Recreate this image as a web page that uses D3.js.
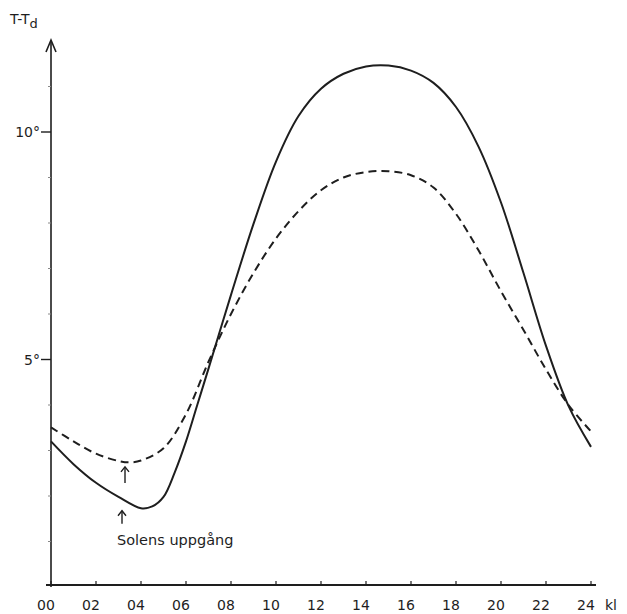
<!DOCTYPE html>
<html>
<head>
<meta charset="utf-8">
<script src="https://cdn.jsdelivr.net/npm/d3@7"></script>
<style>
  body { margin: 0; background: #fff; }
  svg text, svg tspan { font-family: "DejaVu Sans", sans-serif; fill: #1e1e1e; }
</style>
</head>
<body>
<svg id="chart"></svg>
<script>
// hours of the day (kl)
var hours = [0, 1, 2, 3, 4, 4.5, 5, 5.5, 6, 6.5, 7, 8, 9, 10, 11, 12, 13, 14, 15, 16, 17, 18, 19, 20, 21, 22, 23, 24];
// T - Td, solid curve
var solidVals = [3.2, 2.7, 2.29, 1.98, 1.73, 1.77, 1.98, 2.52, 3.2, 4.0, 4.8, 6.42, 7.98, 9.35, 10.35, 10.95, 11.28, 11.44, 11.46, 11.35, 11.08, 10.55, 9.68, 8.45, 6.9, 5.3, 3.98, 3.08];
// T - Td, dashed curve
var dashHours = [0, 1, 2, 3, 3.5, 4, 5, 6, 7, 8, 9, 10, 11, 12, 13, 14, 15, 16, 17, 18, 19, 20, 21, 22, 23, 24];
var dashVals = [3.51, 3.2, 2.93, 2.77, 2.74, 2.78, 3.05, 3.8, 4.95, 6.0, 6.9, 7.66, 8.26, 8.72, 9.0, 9.12, 9.14, 9.05, 8.78, 8.2, 7.4, 6.5, 5.65, 4.78, 4.0, 3.42];
var xTickLabels = ["00","02","04","06","08","10","12","14","16","18","20","22","24"];
var yMajor = [5, 10];
var yMinor = [1, 2, 3, 4, 6, 7, 8, 9, 11];
var sunrise = 3.2;

var width = 627, height = 614;
var ink = "#1e1e1e";
var svg = d3.select("#chart").attr("width", width).attr("height", height);

var x = d3.scaleLinear().domain([0, 24]).range([51, 591]);
var y = d3.scaleLinear().domain([0, 10]).range([587, 132]);

// axes
svg.append("line")
  .attr("x1", x(0)).attr("x2", x(0))
  .attr("y1", y(0)).attr("y2", 42)
  .attr("stroke", ink).attr("stroke-width", 1.6);
svg.append("path")
  .attr("d", "M" + (x(0)-5) + ",52 L" + x(0) + ",40 L" + (x(0)+5) + ",52")
  .attr("fill", "none").attr("stroke", ink).attr("stroke-width", 1.6);
svg.append("line")
  .attr("x1", x(0) - 5).attr("x2", x(24) + 5)
  .attr("y1", y(0) - 2).attr("y2", y(0) - 2)
  .attr("stroke", ink).attr("stroke-width", 1.8);

// x ticks + labels
xTickLabels.forEach(function(t){
  var h = +t;
  svg.append("line")
    .attr("x1", x(h)).attr("x2", x(h))
    .attr("y1", y(0) - 2).attr("y2", y(0) - 6)
    .attr("stroke", ink).attr("stroke-width", 1.2);
  svg.append("text")
    .attr("x", x(h) - 5).attr("y", 610)
    .attr("text-anchor", "middle")
    .attr("font-size", 14)
    .text(t);
});
svg.append("text").attr("x", 605).attr("y", 610).attr("font-size", 14).text("kl");

// y ticks
yMajor.forEach(function(v){
  svg.append("line")
    .attr("x1", x(0) - 10).attr("x2", x(0))
    .attr("y1", y(v)).attr("y2", y(v))
    .attr("stroke", ink).attr("stroke-width", 1.4);
  svg.append("text")
    .attr("x", x(0) - 11).attr("y", y(v) + 5)
    .attr("text-anchor", "end")
    .attr("font-size", 14)
    .text(v + "°");
});
yMinor.forEach(function(v){
  svg.append("line")
    .attr("x1", x(0) - 3).attr("x2", x(0))
    .attr("y1", y(v)).attr("y2", y(v))
    .attr("stroke", "#888").attr("stroke-width", 1);
});

// y title T-Td
var title = svg.append("text").attr("x", 10).attr("y", 24).attr("font-size", 14).attr("fill", ink);
title.append("tspan").attr("fill", ink).text("T-T");
title.append("tspan").attr("fill", ink).attr("font-size", 13).attr("dy", 4).text("d");

// curves
var line = d3.line()
  .x(function(d){ return x(d[0]); })
  .y(function(d){ return y(d[1]); })
  .curve(d3.curveCatmullRom.alpha(0.5));

svg.append("path")
  .datum(d3.zip(hours, solidVals))
  .attr("d", line)
  .attr("fill", "none").attr("stroke", ink).attr("stroke-width", 2);

svg.append("path")
  .datum(d3.zip(dashHours, dashVals))
  .attr("d", line)
  .attr("fill", "none").attr("stroke", ink).attr("stroke-width", 2)
  .attr("stroke-dasharray", "8,5");

// sunrise arrows
function arrow(x0, yTip, len){
  svg.append("line")
    .attr("x1", x0).attr("x2", x0).attr("y1", yTip).attr("y2", yTip + len)
    .attr("stroke", ink).attr("stroke-width", 1.4);
  svg.append("path")
    .attr("d", "M" + (x0-4) + "," + (yTip+5) + " L" + x0 + "," + yTip + " L" + (x0+4) + "," + (yTip+5))
    .attr("fill", "none").attr("stroke", ink).attr("stroke-width", 1.4);
}
arrow(x(sunrise) + 2, y(2.75) + 5, 16);
arrow(x(sunrise) - 1, y(1.72) + 2, 13);

svg.append("text")
  .attr("x", x(sunrise) - 6).attr("y", 545)
  .attr("font-size", 14.5)
  .text("Solens uppgång");
</script>
</body>
</html>
